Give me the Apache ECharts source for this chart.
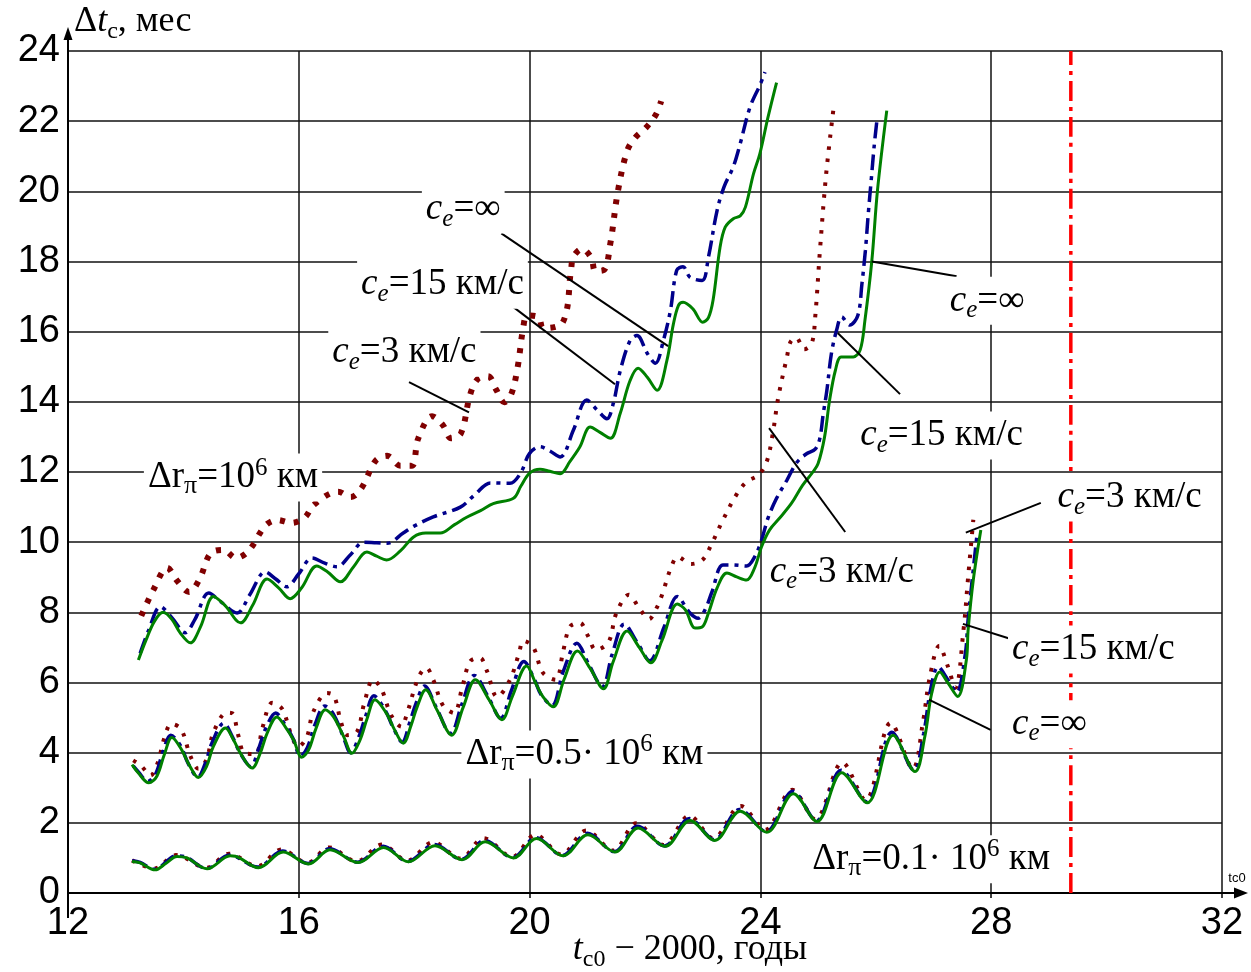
<!DOCTYPE html>
<html><head><meta charset="utf-8">
<script src="https://cdn.jsdelivr.net/npm/echarts@6/dist/echarts.min.js"></script>
<style>html,body{margin:0;padding:0;background:#fff}#c{width:1251px;height:972px}</style>
</head><body><div id="c"></div>
<script>
// ---------- axes ----------
const X_MIN = 12, X_MAX = 32, X_STEP = 4;
const Y_MIN = 0, Y_MAX = 24, Y_STEP = 2;
const LIMIT_X = 29.38;
const limitLine = [[LIMIT_X, 0], [LIMIT_X, 24]];

// ---------- group Δrπ = 10^6 km ----------
const g1_ce3 = [[13.27,7.9],[13.48,8.64],[13.72,9.27],[13.89,8.9],[14.1,8.58],[14.28,8.95],[14.47,9.68],[14.69,9.78],[14.91,9.55],[15.13,9.75],[15.42,10.47],[15.63,10.63],[15.87,10.55],[16.1,10.7],[16.27,11.08],[16.68,11.44],[16.9,11.29],[17.09,11.55],[17.33,12.32],[17.53,12.46],[17.76,12.18],[17.96,12.18],[18.07,12.96],[18.31,13.59],[18.5,13.33],[18.64,12.96],[18.81,13.1],[18.97,14.21],[19.1,14.65],[19.28,14.73],[19.42,14.35],[19.56,13.99],[19.68,14.21],[19.79,14.96],[19.89,16.12],[19.96,16.46],[20.15,16.42],[20.24,16.1],[20.58,16.28],[20.72,17.79],[20.76,18.14],[20.91,18.36],[21.07,18.1],[21.14,17.73],[21.29,17.76],[21.4,18.52],[21.53,20.0],[21.69,21.15],[21.83,21.53],[22.02,21.82],[22.19,22.19],[22.28,22.57]];
const g1_ce15 = [[13.25,6.83],[13.4,7.5],[13.6,8.16],[13.8,7.85],[14.03,7.42],[14.2,7.8],[14.44,8.55],[14.65,8.3],[14.93,7.98],[15.15,8.5],[15.42,9.15],[15.6,8.95],[15.79,8.73],[16.0,9.1],[16.23,9.55],[16.45,9.4],[16.66,9.3],[16.9,9.65],[17.12,10.0],[17.35,9.98],[17.53,9.97],[17.81,10.26],[17.99,10.45],[18.33,10.72],[18.8,11.0],[19.05,11.35],[19.32,11.69],[19.66,11.68],[19.84,11.96],[20.0,12.53],[20.18,12.72],[20.35,12.6],[20.53,12.43],[20.76,13.2],[20.99,14.05],[21.17,13.77],[21.34,13.52],[21.45,13.95],[21.57,14.88],[21.74,15.74],[21.86,15.89],[22.04,15.38],[22.18,15.1],[22.32,15.76],[22.44,16.6],[22.55,17.75],[22.66,17.85],[22.78,17.55],[22.99,17.46],[23.1,18.13],[23.25,19.46],[23.37,20.13],[23.53,20.7],[23.65,21.36],[23.82,22.4],[24.0,23.06],[24.08,23.4]];
const g1_ceInf = [[13.22,6.64],[13.35,7.2],[13.5,7.75],[13.65,8.0],[13.8,7.8],[13.95,7.4],[14.12,7.13],[14.3,7.6],[14.52,8.45],[14.72,8.2],[14.99,7.7],[15.2,8.2],[15.45,8.95],[15.65,8.7],[15.85,8.39],[16.05,8.7],[16.31,9.32],[16.5,9.15],[16.72,8.87],[16.95,9.3],[17.18,9.72],[17.35,9.6],[17.52,9.49],[17.76,9.75],[17.99,10.15],[18.2,10.26],[18.45,10.26],[18.7,10.5],[18.91,10.71],[19.15,10.9],[19.37,11.1],[19.72,11.25],[19.85,11.6],[20.0,11.97],[20.18,12.08],[20.35,12.02],[20.53,11.95],[20.7,12.3],[20.87,12.71],[21.05,13.28],[21.22,13.13],[21.4,12.96],[21.57,13.67],[21.74,14.6],[21.88,14.96],[22.04,14.7],[22.21,14.33],[22.38,15.18],[22.49,16.2],[22.58,16.75],[22.66,16.84],[22.83,16.65],[23.0,16.27],[23.1,16.4],[23.18,16.9],[23.3,18.4],[23.39,18.98],[23.53,19.22],[23.65,19.3],[23.74,19.55],[23.88,20.5],[23.99,21.07],[24.13,22.1],[24.28,23.1]];

// ---------- group Δrπ = 0.5·10^6 km ----------
const g2_ce3 = [[13.13,3.78],[13.27,3.62],[13.43,3.35],[13.55,3.69],[13.67,4.42],[13.79,4.82],[13.96,4.67],[14.12,3.91],[14.26,3.54],[14.4,3.8],[14.52,4.57],[14.75,5.14],[14.85,5.12],[14.95,4.5],[15.06,3.99],[15.25,3.96],[15.37,4.71],[15.54,5.42],[15.71,5.25],[15.87,4.51],[15.99,4.17],[16.14,4.45],[16.25,5.16],[16.49,5.7],[16.61,5.62],[16.73,4.88],[16.84,4.5],[17.01,4.6],[17.13,5.38],[17.29,6.08],[17.43,5.82],[17.6,5.07],[17.78,4.74],[17.86,5.03],[18.07,6.13],[18.21,6.42],[18.33,6.08],[18.5,5.34],[18.69,5.13],[18.83,5.85],[18.97,6.6],[19.14,6.7],[19.26,6.33],[19.44,5.59],[19.66,6.08],[19.82,6.85],[19.89,7.19],[20.06,7.02],[20.23,6.28],[20.45,6.08],[20.58,6.88],[20.7,7.59],[20.87,7.7],[21.01,7.33],[21.15,6.93],[21.37,7.16],[21.5,7.96],[21.72,8.5],[21.9,8.12],[22.07,7.81],[22.2,8.12],[22.3,8.52],[22.45,9.27],[22.57,9.58],[22.8,9.38],[23.0,9.5],[23.14,9.9],[23.35,10.63],[23.59,11.37],[23.76,11.72],[23.97,11.92],[24.11,12.3],[24.21,13.05],[24.31,14.13],[24.46,15.28],[24.52,15.7],[24.62,15.83],[24.76,15.5],[24.89,15.67],[24.95,16.42],[25.03,18.27],[25.14,20.5],[25.27,22.4]];
const g2_ce15 = [[13.13,3.62],[13.22,3.45],[13.38,3.18],[13.52,3.4],[13.65,4.05],[13.78,4.5],[13.95,4.2],[14.08,3.7],[14.25,3.3],[14.38,3.7],[14.5,4.3],[14.7,4.84],[14.85,4.45],[14.98,4.0],[15.17,3.6],[15.3,4.1],[15.43,4.7],[15.6,5.13],[15.76,4.8],[15.9,4.4],[16.03,3.9],[16.15,4.15],[16.28,4.8],[16.45,5.33],[16.6,5.1],[16.76,4.5],[16.9,4.0],[17.04,4.45],[17.16,5.05],[17.3,5.62],[17.5,5.2],[17.64,4.7],[17.79,4.3],[17.93,4.9],[18.03,5.4],[18.18,5.9],[18.38,5.3],[18.63,4.55],[18.83,5.4],[19.04,6.2],[19.28,5.6],[19.5,4.98],[19.68,5.75],[19.9,6.6],[20.08,6.1],[20.2,5.65],[20.39,5.35],[20.58,6.3],[20.82,7.12],[21.03,6.5],[21.26,5.88],[21.43,6.8],[21.64,7.66],[21.88,7.1],[22.08,6.62],[22.33,7.58],[22.56,8.45],[22.78,7.98],[22.92,7.83],[23.04,8.07],[23.16,8.58],[23.35,9.35],[23.52,9.35],[23.76,9.32],[23.9,9.58],[24.02,10.06],[24.13,10.68],[24.28,11.25],[24.46,11.77],[24.63,12.27],[24.8,12.52],[24.95,12.65],[25.03,12.96],[25.09,13.67],[25.15,14.3],[25.23,15.37],[25.32,16.04],[25.41,16.42],[25.55,16.19],[25.69,16.47],[25.76,17.37],[25.82,18.32],[25.87,19.37],[25.92,20.31],[25.97,21.26],[26.02,22.03]];
const g2_ceInf = [[13.11,3.66],[13.22,3.42],[13.4,3.14],[13.54,3.33],[13.67,3.95],[13.8,4.43],[13.97,4.08],[14.1,3.65],[14.26,3.29],[14.4,3.6],[14.52,4.18],[14.73,4.7],[14.87,4.36],[15.0,3.95],[15.19,3.56],[15.33,3.98],[15.45,4.55],[15.62,5.02],[15.78,4.7],[15.91,4.36],[16.05,3.87],[16.17,4.08],[16.3,4.7],[16.46,5.22],[16.6,5.03],[16.78,4.45],[16.92,3.98],[17.06,4.36],[17.18,4.95],[17.32,5.51],[17.52,5.12],[17.66,4.65],[17.81,4.27],[17.95,4.8],[18.05,5.3],[18.2,5.79],[18.4,5.2],[18.65,4.5],[18.85,5.3],[19.06,6.08],[19.3,5.5],[19.52,4.94],[19.7,5.6],[19.95,6.47],[20.1,6.0],[20.23,5.6],[20.41,5.31],[20.6,6.1],[20.83,6.9],[21.05,6.4],[21.28,5.82],[21.45,6.6],[21.69,7.47],[21.9,7.0],[22.1,6.56],[22.3,7.22],[22.56,8.24],[22.7,8.07],[22.87,7.55],[22.99,7.58],[23.1,7.98],[23.25,8.7],[23.42,9.12],[23.59,9.01],[23.76,8.92],[23.9,9.27],[24.02,9.87],[24.16,10.35],[24.33,10.68],[24.54,11.11],[24.73,11.62],[24.91,12.0],[25.0,12.24],[25.11,12.98],[25.2,14.05],[25.3,14.9],[25.4,15.28],[25.61,15.28],[25.73,15.48],[25.81,16.3],[25.93,18.0],[26.03,20.04],[26.19,22.3]];

// ---------- group Δrπ = 0.1·10^6 km ----------
const g3_ce3 = [[13.11,0.93],[13.5,0.7],[13.87,1.08],[14.4,0.72],[14.79,1.12],[15.28,0.76],[15.7,1.24],[16.15,0.86],[16.52,1.3],[17.0,0.9],[17.44,1.38],[17.88,0.92],[18.33,1.45],[18.8,0.98],[19.2,1.56],[19.7,1.03],[20.1,1.66],[20.55,1.1],[20.98,1.78],[21.45,1.21],[21.85,1.99],[22.32,1.37],[22.77,2.2],[23.18,1.56],[23.66,2.48],[24.08,1.8],[24.55,2.94],[24.95,2.1],[25.42,3.72],[25.82,2.65],[26.26,4.85],[26.64,3.55],[26.82,4.9],[26.93,6.1],[27.1,7.05],[27.24,6.5],[27.38,5.85],[27.52,7.5],[27.6,9.0],[27.69,10.64]];
const g3_ce15 = [[13.11,0.92],[13.25,0.87],[13.5,0.68],[13.88,1.06],[14.05,1.02],[14.4,0.7],[14.8,1.08],[15.29,0.74],[15.72,1.2],[16.16,0.84],[16.53,1.26],[17.02,0.88],[17.46,1.33],[17.89,0.9],[18.35,1.38],[18.82,0.96],[19.22,1.5],[19.71,1.01],[20.11,1.58],[20.57,1.07],[21.0,1.7],[21.47,1.18],[21.87,1.9],[22.34,1.34],[22.77,2.12],[23.2,1.52],[23.64,2.38],[24.1,1.75],[24.56,2.9],[24.97,2.06],[25.4,3.5],[25.84,2.6],[26.28,4.58],[26.66,3.5],[26.83,4.55],[26.95,5.8],[27.08,6.45],[27.24,6.1],[27.4,5.72],[27.55,6.8],[27.6,7.8],[27.75,10.15]];
const g3_ceInf = [[13.11,0.9],[13.25,0.86],[13.51,0.66],[13.7,0.85],[13.89,1.04],[14.06,1.0],[14.41,0.69],[14.81,1.06],[14.9,1.05],[15.3,0.72],[15.73,1.17],[16.17,0.83],[16.54,1.23],[17.03,0.87],[17.47,1.3],[17.9,0.89],[18.36,1.35],[18.83,0.95],[19.23,1.46],[19.72,1.0],[20.12,1.55],[20.58,1.06],[21.01,1.66],[21.48,1.17],[21.88,1.85],[22.35,1.33],[22.78,2.07],[23.21,1.5],[23.65,2.33],[24.11,1.73],[24.57,2.83],[24.98,2.04],[25.41,3.43],[25.85,2.57],[26.3,4.5],[26.68,3.46],[26.85,4.46],[26.97,5.7],[27.11,6.3],[27.25,5.99],[27.42,5.6],[27.57,6.65],[27.6,7.5],[27.69,8.93],[27.82,10.35]];

// ---------- annotation texts ----------
const T_INF = '{i|c}{s|e}{n|=∞}';
const T_15 = '{i|c}{s|e}{n|=15 км/с}';
const T_3 = '{i|c}{s|e}{n|=3 км/с}';
const T_DR1 = '{n|Δr}{p|π}{n|=10}{u|6}{n| км}';
const T_DR05 = '{n|Δr}{p|π}{n|=0.5· 10}{u|6}{n| км}';
const T_DR01 = '{n|Δr}{p|π}{n|=0.1· 10}{u|6}{n| км}';
const Y_NAME = '{n|Δ}{i|t}{s|c}{n|, мес}';
const X_NAME = '{i|t}{s|c0}{n| − 2000, годы}';

// label anchors (data coords)
const labelAt = [
  [T_INF, 18.85, 19.48], [T_15, 18.49, 17.34], [T_3, 17.83, 15.40], [T_DR1, 14.86, 11.84],
  [T_INF, 27.93, 16.88], [T_15, 27.14, 13.04], [T_3, 25.41, 9.14],
  [T_3, 30.40, 11.27], [T_15, 29.77, 6.94], [T_INF, 29.01, 4.81],
  [T_DR05, 20.95, 3.95], [T_DR01, 26.96, 0.96]
];
// leader lines (data coords)
const leaders = [
  [19.51, 18.8, 22.40, 15.59], [19.72, 16.7, 21.48, 14.5], [17.91, 14.56, 18.95, 13.7],
  [25.93, 18.0, 27.4, 17.58], [25.34, 15.96, 26.42, 14.22], [24.15, 13.25, 25.47, 10.29],
  [27.56, 10.27, 28.86, 11.12], [27.51, 7.67, 28.34, 7.24], [26.92, 5.51, 27.99, 4.65]
];

const SERIF = '"Liberation Serif", "Times New Roman", serif';
const SANS = '"Liberation Sans", Arial, sans-serif';

const DOT_BIG = { color: '#800000', width: 6, type: [5, 9], cap: 'butt' };
const DOT_SMALL = { color: '#800000', width: 4, type: [3.5, 8.5], cap: 'butt' };
const DASHDOT = { color: '#00008b', width: 3.5, type: [16, 6, 4, 6], cap: 'butt' };
const SOLID = { color: '#008000', width: 3 };
const RED = { color: '#ff0000', width: 3.5, type: [20, 6, 4, 6], cap: 'butt' };

function ln(data, lineStyle, z) {
  return { type: 'line', data, symbol: 'none', smooth: 0.35, lineStyle, z, silent: true, animation: false };
}

const chart = echarts.init(document.getElementById('c'), null, { renderer: 'canvas' });
chart.setOption({
  animation: false,
  backgroundColor: '#fff',
  grid: { left: 68, right: 29, top: 51, bottom: 79 },
  xAxis: {
    type: 'value', min: X_MIN, max: X_MAX, interval: X_STEP,
    axisLine: { show: true, lineStyle: { color: '#000', width: 2 } },
    axisTick: { show: true, length: 5, lineStyle: { color: '#000', width: 1.5 } },
    splitLine: { show: true, lineStyle: { color: '#111', width: 1.5 } },
    axisLabel: { color: '#000', fontFamily: SANS, fontSize: 38, margin: 12 }
  },
  yAxis: {
    type: 'value', min: Y_MIN, max: Y_MAX, interval: Y_STEP,
    axisLine: { show: true, lineStyle: { color: '#000', width: 2 } },
    axisTick: { show: false },
    splitLine: { show: true, lineStyle: { color: '#111', width: 1.5 } },
    axisLabel: { color: '#000', fontFamily: SANS, fontSize: 38, margin: 8 }
  },
  series: [
    ln(limitLine, RED, 2),
    ln(g1_ce3, DOT_BIG, 3), ln(g1_ce15, DASHDOT, 4), ln(g1_ceInf, SOLID, 5),
    ln(g2_ce3, DOT_SMALL, 3), ln(g2_ce15, DASHDOT, 4), ln(g2_ceInf, SOLID, 5),
    ln(g3_ce3, DOT_SMALL, 3), ln(g3_ce15, DASHDOT, 4), ln(g3_ceInf, SOLID, 5)
  ]
});

const P = (x, y) => chart.convertToPixel({ gridIndex: 0 }, [x, y]);
function richSet(main, sub, subLH, supLH, supSize, subItalic) {
  const base = { fontFamily: SERIF, color: '#000' };
  return {
    n: Object.assign({}, base, { fontSize: main, lineHeight: main + 7, verticalAlign: 'middle' }),
    i: Object.assign({}, base, { fontSize: main, lineHeight: main + 7, verticalAlign: 'middle', fontStyle: 'italic' }),
    s: Object.assign({}, base, { fontSize: sub, lineHeight: subLH, verticalAlign: 'bottom', fontStyle: subItalic ? 'italic' : 'normal' }),
    p: Object.assign({}, base, { fontSize: sub + 1, lineHeight: subLH, verticalAlign: 'bottom' }),
    u: Object.assign({}, base, { fontSize: supSize, lineHeight: supLH, verticalAlign: 'top' })
  };
}
const RICH_LABEL = richSet(37, 25, 20, 36, 25, true);
const RICH_YNAME = richSet(36, 24, 19, 32, 24, false);
const RICH_XNAME = richSet(36, 24, 20, 34, 24, false);

const els = [];
const pO = P(X_MIN, Y_MIN), pTop = P(X_MIN, Y_MAX), pRight = P(X_MAX, Y_MIN);
// axis extensions and arrows
els.push({ type: 'line', shape: { x1: pO[0], y1: pTop[1], x2: pO[0], y2: pTop[1] - 14 }, style: { stroke: '#000', lineWidth: 2 }, z: 50 });
els.push({ type: 'polygon', shape: { points: [[pO[0], pTop[1] - 24], [pO[0] - 4.5, pTop[1] - 11], [pO[0] + 4.5, pTop[1] - 11]] }, style: { fill: '#000' }, z: 50 });
els.push({ type: 'line', shape: { x1: pO[0], y1: pO[1], x2: pO[0], y2: pO[1] + 25 }, style: { stroke: '#000', lineWidth: 2 }, z: 50 });
els.push({ type: 'line', shape: { x1: pRight[0], y1: pO[1], x2: pRight[0] + 14, y2: pO[1] }, style: { stroke: '#000', lineWidth: 2 }, z: 50 });
els.push({ type: 'polygon', shape: { points: [[pRight[0] + 26, pO[1]], [pRight[0] + 12, pO[1] - 5.5], [pRight[0] + 12, pO[1] + 5.5]] }, style: { fill: '#000' }, z: 50 });
els.push({ type: 'text', x: pRight[0] + 15, y: pO[1] - 15, style: { text: 'tc0', font: '13px ' + SANS, fill: '#000', align: 'center', verticalAlign: 'middle' }, z: 50 });
// axis names
els.push({ type: 'text', x: pO[0] + 6, y: pTop[1] - 29, style: { text: Y_NAME, rich: RICH_YNAME, align: 'left', verticalAlign: 'middle' }, z: 50 });
els.push({ type: 'text', x: (pO[0] + pRight[0]) / 2 + 45, y: pO[1] + 57, style: { text: X_NAME, rich: RICH_XNAME, align: 'center', verticalAlign: 'middle' }, z: 50 });
// leaders
leaders.forEach(l => {
  const a = P(l[0], l[1]), b = P(l[2], l[3]);
  els.push({ type: 'line', shape: { x1: a[0], y1: a[1], x2: b[0], y2: b[1] }, style: { stroke: '#000', lineWidth: 2 }, z: 60 });
});
// labels
labelAt.forEach(l => {
  const p = P(l[1], l[2]);
  els.push({ type: 'text', x: p[0], y: p[1], style: { text: l[0], rich: RICH_LABEL, align: 'center', verticalAlign: 'middle', backgroundColor: '#fff', padding: [2, 4, 2, 4] }, z: 70 });
});
chart.setOption({ graphic: { elements: els } });
</script></body></html>
